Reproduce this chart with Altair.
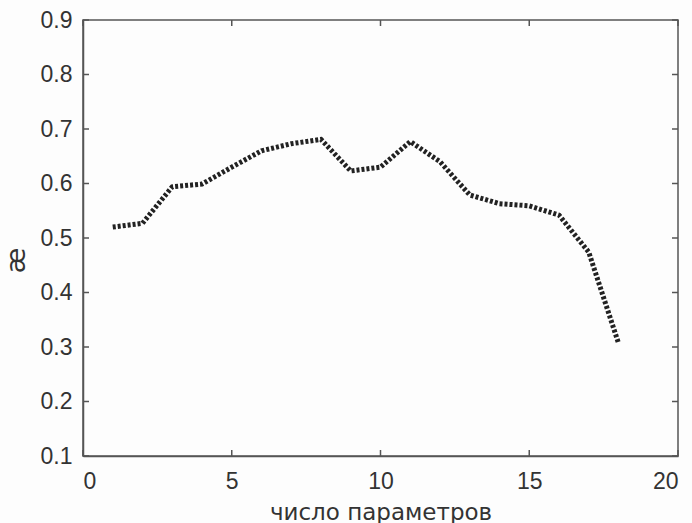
import altair as alt
import pandas as pd

# number of parameters and the resulting coefficient
n_params = [1, 2, 3, 4, 5, 6, 7, 8, 9, 10, 11, 12, 13, 14, 15, 16, 17, 18]
kappa = [0.520, 0.527, 0.594, 0.599, 0.630, 0.660, 0.673, 0.681, 0.623, 0.630,
         0.677, 0.640, 0.579, 0.563, 0.559, 0.542, 0.474, 0.307]

x_ticks = [0, 5, 10, 15, 20]
y_ticks = [0.1, 0.2, 0.3, 0.4, 0.5, 0.6, 0.7, 0.8, 0.9]

W, H = 595, 436
TICK = 6
FONT = "Liberation Sans"
TITLE_FONT = "DejaVu Sans"
TXT = "#333333"
AX = "#555555"

df = pd.DataFrame({"n": n_params, "k": kappa})
xt = pd.DataFrame({"t": x_ticks})
yt = pd.DataFrame({"t": y_ticks})

xs = alt.Scale(domain=[0, 20], nice=False, zero=False)
ys = alt.Scale(domain=[0.1, 0.9], nice=False, zero=False)

line = alt.Chart(df).mark_line(
    color="#222222", strokeWidth=5, strokeDash=[3, 2], strokeCap="butt"
).encode(
    x=alt.X("n:Q", scale=xs, axis=alt.Axis(
        values=x_ticks, title="число параметров", ticks=False, tickSize=0,
        grid=False, labelFontSize=23, labelPadding=14, labelColor=TXT,
        labelFont=FONT, domainColor=AX, domainWidth=1.5,
        titleFont=TITLE_FONT, titleFontSize=23, titleFontWeight="normal",
        titleColor=TXT, titleBaseline="alphabetic", titleY=63,
    )),
    y=alt.Y("k:Q", scale=ys, axis=alt.Axis(
        values=y_ticks, title="æ", ticks=False, tickSize=0, grid=False,
        format=".1f", labelFontSize=23, labelPadding=11, labelColor=TXT,
        labelFont=FONT, domainColor=AX, domainWidth=1.5,
        titleFont=TITLE_FONT, titleFontSize=26, titleFontWeight="normal",
        titleColor=TXT, titleAlign="center", titleBaseline="middle",
        titleX=-67, titleY=240, titleAngle=270,
    )),
)

tick_style = dict(color=AX, strokeWidth=1.5)

bottom = alt.Chart(xt).mark_rule(**tick_style).encode(
    x=alt.X("t:Q", scale=xs), y=alt.value(H), y2=alt.value(H - TICK))
top = alt.Chart(xt).mark_rule(**tick_style).encode(
    x=alt.X("t:Q", scale=xs), y=alt.value(0), y2=alt.value(TICK))
left = alt.Chart(yt).mark_rule(**tick_style).encode(
    y=alt.Y("t:Q", scale=ys), x=alt.value(0), x2=alt.value(TICK))
right = alt.Chart(yt).mark_rule(**tick_style).encode(
    y=alt.Y("t:Q", scale=ys), x=alt.value(W), x2=alt.value(W - TICK))

chart = alt.layer(bottom, top, left, right, line).properties(
    width=W, height=H,
    autosize=alt.AutoSizeParams(type="none"),
    padding={"left": 83, "top": 20, "right": 14, "bottom": 67},
    background="#fdfdfd",
).configure_view(stroke=AX, strokeWidth=1.5)

chart.save("out.html", embed_options={"renderer": "svg", "actions": False})
